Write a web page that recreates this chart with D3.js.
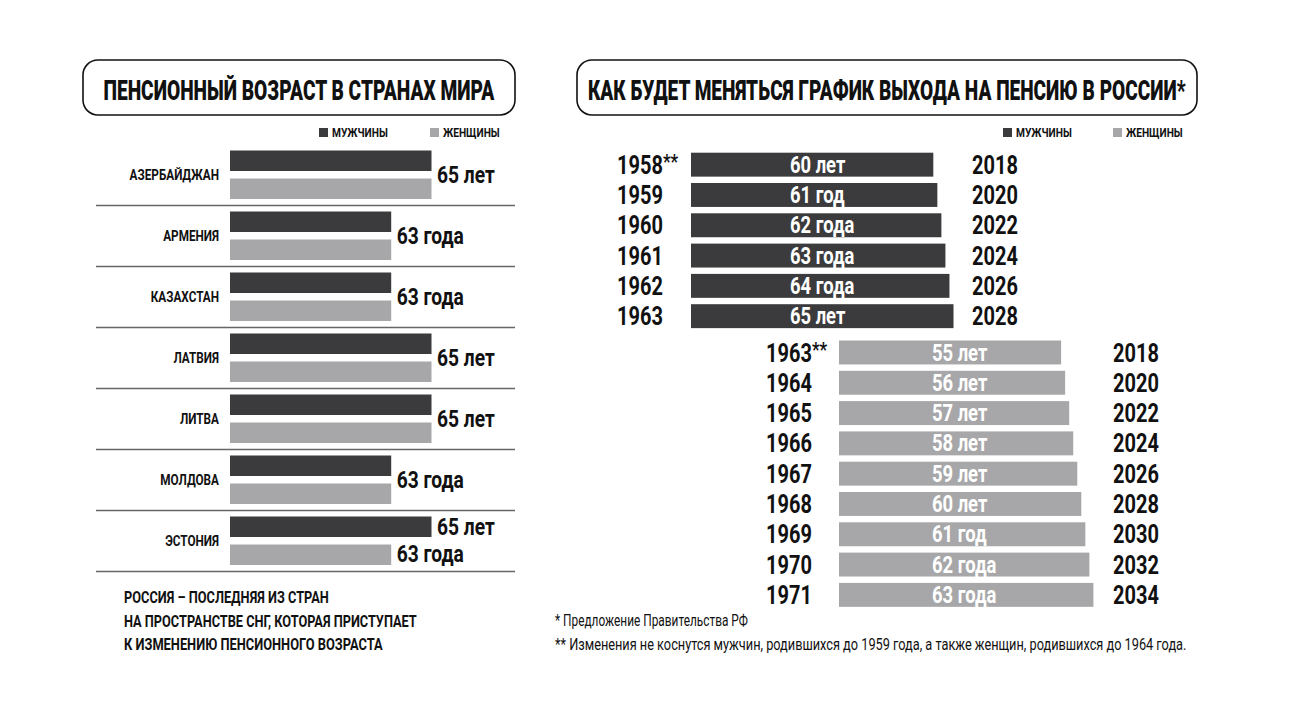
<!DOCTYPE html>
<html>
<head>
<meta charset="utf-8">
<script src="https://cdn.jsdelivr.net/npm/d3@7"></script>
<style>
  body { margin: 0; background: #fff; }
  text { font-family: Roboto, "Noto Sans", sans-serif; }
</style>
</head>
<body>
<svg id="chart" width="1300" height="719"></svg>
<script>
// ---- data: left panel (world) ----
const countries = ["АЗЕРБАЙДЖАН", "АРМЕНИЯ", "КАЗАХСТАН", "ЛАТВИЯ", "ЛИТВА", "МОЛДОВА", "ЭСТОНИЯ"];
const worldMen = [65, 63, 63, 65, 65, 63, 65];
const worldWomen = [65, 63, 63, 65, 65, 63, 63];

// ---- data: right panel (Russia schedule) ----
const menBirth = ["1958", "1959", "1960", "1961", "1962", "1963"];
const menAge = [60, 61, 62, 63, 64, 65];
const menYear = ["2018", "2020", "2022", "2024", "2026", "2028"];
const womenBirth = ["1963", "1964", "1965", "1966", "1967", "1968", "1969", "1970", "1971"];
const womenAge = [55, 56, 57, 58, 59, 60, 61, 62, 63];
const womenYear = ["2018", "2020", "2022", "2024", "2026", "2028", "2030", "2032", "2034"];

const legendLabels = ["МУЖЧИНЫ", "ЖЕНЩИНЫ"];
const noteLines = ["РОССИЯ – ПОСЛЕДНЯЯ ИЗ СТРАН", "НА ПРОСТРАНСТВЕ СНГ, КОТОРАЯ ПРИСТУПАЕТ", "К ИЗМЕНЕНИЮ ПЕНСИОННОГО ВОЗРАСТА"];
const footnotes = ["* Предложение Правительства РФ", "** Изменения не коснутся мужчин, родившихся до 1959 года, а также женщин, родившихся до 1964 года."];

// widths the long lines are fitted to (layout, not data)
const noteWidths = [205, 293, 259];
const footWidths = [193, 632];

const DARK = "#3b3b3d", LIGHT = "#a7a7a9", INK = "#111";
const SX = 0.8; // horizontal squeeze to imitate the condensed face

// russian plural for age in years
function ageLabel(n) {
    const d = n % 10;
    if (d === 1) return n + " год";
    if (d >= 2 && d <= 4) return n + " года";
    return n + " лет";
}

// place a text at (x,y) squeezed horizontally
function put(parent, x, y, sx) {
    return parent.append("text")
        .attr("transform", `translate(${x},${y}) scale(${sx},1)`);
}

// squeeze an already filled text so it is exactly w wide
function fit(sel, x, y, w) {
    const n = sel.node().getComputedTextLength();
    sel.attr("transform", `translate(${x},${y}) scale(${w / n},1)`);
    return sel;
}

const svg = d3.select("#chart");

// title boxes
function titleBox(x, y, w, h, label, tw) {
    svg.append("rect")
        .attr("x", x).attr("y", y).attr("width", w).attr("height", h)
        .attr("rx", 15).attr("ry", 15)
        .attr("fill", "#fff").attr("stroke", INK).attr("stroke-width", 1.6);
    const t = svg.append("text")
        .attr("font-size", 28).attr("font-weight", 900).attr("fill", INK)
        .text(label);
    fit(t, x + (w - tw) / 2, y + 40, tw);
}
titleBox(83, 60, 432, 55, "ПЕНСИОННЫЙ ВОЗРАСТ В СТРАНАХ МИРА", 391);
titleBox(577, 60, 620, 55, "КАК БУДЕТ МЕНЯТЬСЯ ГРАФИК ВЫХОДА НА ПЕНСИЮ В РОССИИ*", 598);

function legend(xs) {
    const colors = [DARK, LIGHT];
    xs.forEach((x, i) => {
        svg.append("rect").attr("x", x).attr("y", 128).attr("width", 9).attr("height", 9).attr("fill", colors[i]);
        put(svg, x + 13, 137, 0.85)
            .attr("font-size", 12).attr("font-weight", "bold").attr("fill", INK)
            .text(legendLabels[i]);
    });
}
legend([319, 430]);
legend([1003, 1113]);

// ---- left panel ----
const yCountry = d3.scaleBand().domain(countries).range([150.5, 150.5 + 61 * 7]).paddingInner(0).paddingOuter(0);
const ySex = d3.scaleBand().domain(["m", "f"]).range([0, 48.5]).paddingInner(0.268);
const xWorld = d3.scaleLinear().domain([55, 65]).range([230, 431.5]);

const rows = countries.map((c, i) => ({ c, m: worldMen[i], f: worldWomen[i] }));
const g = svg.selectAll("g.row").data(rows).enter().append("g")
    .attr("class", "row")
    .attr("transform", d => `translate(0,${yCountry(d.c)})`);

g.append("rect").attr("x", xWorld(55)).attr("y", ySex("m"))
    .attr("width", d => xWorld(d.m) - xWorld(55)).attr("height", ySex.bandwidth()).attr("fill", DARK);
g.append("rect").attr("x", xWorld(55)).attr("y", ySex("f"))
    .attr("width", d => xWorld(d.f) - xWorld(55)).attr("height", ySex.bandwidth()).attr("fill", LIGHT);

g.append("line").attr("x1", 96).attr("x2", 515).attr("y1", 55).attr("y2", 55)
    .attr("stroke", "#666").attr("stroke-width", 1.5);

g.each(function (d) {
    const row = d3.select(this);
    put(row, 219, 29, 0.84)
        .attr("text-anchor", "end").attr("font-size", 14).attr("font-weight", "bold").attr("fill", INK)
        .text(d.c);
    if (d.m === d.f) {
        put(row, xWorld(d.m) + 5.5, 32.5, SX)
            .attr("font-size", 24).attr("font-weight", "bold").attr("fill", INK)
            .text(ageLabel(d.m));
    } else {
        put(row, xWorld(d.m) + 5.5, ySex("m") + 18.5, SX)
            .attr("font-size", 24).attr("font-weight", "bold").attr("fill", INK).text(ageLabel(d.m));
        put(row, xWorld(d.f) + 5.5, ySex("f") + 17.5, SX)
            .attr("font-size", 24).attr("font-weight", "bold").attr("fill", INK).text(ageLabel(d.f));
    }
});

noteLines.forEach((line, i) => {
    const t = svg.append("text")
        .attr("font-size", 16.5).attr("font-weight", "bold").attr("fill", INK)
        .text(line);
    fit(t, 124, 603 + i * 23.5, noteWidths[i]);
});

// ---- right panel ----
const xAge = d3.scaleLinear().domain([0, 65]).range([0, 262.5]);
const STEP = 30.3;

function schedule(birth, age, year, top, x0, labelDx, birthX, yearX, color) {
    const y = d3.scaleBand().domain(birth).range([top, top + STEP * (birth.length - 0.21)]).paddingInner(0.21);
    const data = birth.map((b, i) => ({ b, a: age[i], y: year[i], i }));
    const gg = svg.append("g");
    const r = gg.selectAll("g").data(data).enter().append("g")
        .attr("transform", d => `translate(0,${y(d.b)})`);
    r.append("rect").attr("x", x0).attr("y", 0)
        .attr("width", d => xAge(d.a)).attr("height", y.bandwidth()).attr("fill", color);
    r.each(function (d) {
        const row = d3.select(this);
        put(row, x0 + labelDx, 20, SX)
            .attr("font-size", 23).attr("font-weight", "bold").attr("fill", "#fff")
            .text(ageLabel(d.a));
        const bt = put(row, birthX, 21, SX)
            .attr("font-size", 25).attr("font-weight", "bold").attr("fill", INK)
            .text(d.b);
        if (d.i === 0) bt.append("tspan").attr("font-size", 21).attr("dy", -5).text("**");
        put(row, yearX, 21, SX)
            .attr("font-size", 25).attr("font-weight", "bold").attr("fill", INK)
            .text(d.y);
    });
}
schedule(menBirth, menAge, menYear, 152.7, 691, 99, 617, 972, DARK);
schedule(womenBirth, womenAge, womenYear, 340.5, 839, 93, 766, 1113, LIGHT);

footnotes.forEach((line, i) => {
    const t = svg.append("text")
        .attr("font-size", 16).attr("fill", INK)
        .text(line);
    fit(t, 555, 626 + i * 24, footWidths[i]);
});
</script>
</body>
</html>
